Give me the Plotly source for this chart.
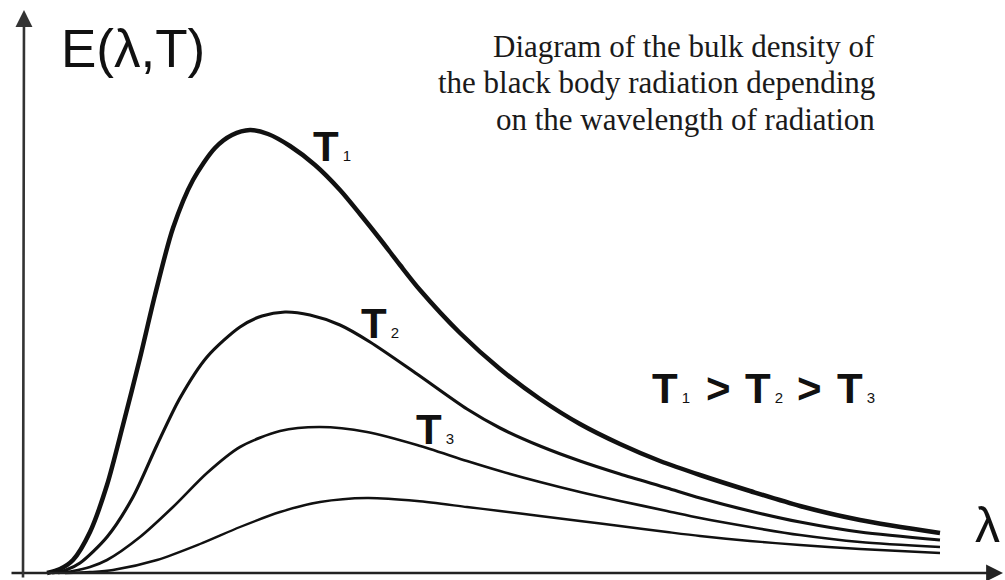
"""
Black body radiation: spectral density E(lambda, T) for several temperatures.
Curves read off the reference sketch (arbitrary units, origin at the axes).
"""

import plotly.graph_objects as go

# --- Data (arbitrary units: lambda to the right, E upward) ---
LAM_T1 = [24, 37, 50, 67, 84, 100, 117, 132, 150, 170, 192, 209, 227, 245, 267, 292, 317,
          337, 357, 377, 397, 437, 477, 517, 557, 597, 637, 677, 727, 777, 837, 917]
E_T1 = [0, 4, 13, 41, 88, 148, 215, 278, 345, 393, 425, 438, 443, 439, 427, 408, 383,
        359, 334, 308, 283, 240, 204, 174, 149, 129, 112, 98, 82, 67, 53, 40]

LAM_T2 = [29, 43, 57, 84, 110, 134, 157, 184, 217, 239, 262, 287, 317, 347, 394, 444,
          477, 517, 557, 597, 644, 677, 727, 777, 837, 917]
E_T2 = [0, 3, 10, 36, 76, 128, 175, 216, 246, 257, 261, 258, 248, 231, 199, 164,
        145, 127, 112, 99, 85, 75, 62, 51, 41, 33]

LAM_T3 = [35, 50, 67, 84, 117, 150, 184, 217, 257, 297, 344, 394, 444, 477, 517, 557,
          597, 644, 677, 727, 777, 837, 917]
E_T3 = [0, 2, 6, 13, 36, 66, 100, 126, 142, 146, 141, 128, 112, 102, 91, 81,
        72, 62, 55, 46, 38, 31, 26]

LAM_T4 = [42, 67, 90, 134, 177, 217, 257, 297, 344, 394, 444, 477, 517, 557, 597, 644,
          677, 727, 777, 837, 917]
E_T4 = [0, 1, 3, 13, 29, 46, 61, 71, 75, 72, 66, 62, 57, 52, 47, 41,
        37, 32, 28, 24, 20]

CURVES = [
    (LAM_T1, E_T1, 4.5),
    (LAM_T2, E_T2, 3.2),
    (LAM_T3, E_T3, 2.7),
    (LAM_T4, E_T4, 2.4),
]

TITLE_LINES = [
    "Diagram of the bulk density of",
    "the black body radiation depending",
    "on the wavelength of radiation",
]

SANS = "Liberation Sans, Arial, sans-serif"
SERIF = "Liberation Serif, Times New Roman, serif"
INK = "#111111"


def t_label(digit):
    return f"<b>T</b><span style='font-size:15px'> {digit}</span>"


fig = go.Figure()

for lam, e, w in CURVES:
    fig.add_trace(go.Scatter(
        x=lam, y=e,
        mode='lines',
        line=dict(color=INK, width=w, shape='spline', smoothing=0.8),
        showlegend=False,
        hoverinfo='skip',
    ))

annotations = []

# Axes with arrows (tail -> tip)
annotations.append(dict(
    x=980, y=0, ax=-13, ay=0, xref='x', yref='y', axref='x', ayref='y',
    showarrow=True, arrowhead=2, arrowsize=1.3, arrowwidth=2.6, arrowcolor='#222222',
    text='', standoff=0,
))
annotations.append(dict(
    x=1, y=563, ax=0, ay=-6, xref='x', yref='y', axref='x', ayref='y',
    showarrow=True, arrowhead=2, arrowsize=1.3, arrowwidth=2.6, arrowcolor='#333333',
    text='', standoff=0,
))

# Axis labels
annotations.append(dict(
    x=36, y=525, xref='x', yref='y', text="E(λ,T)", showarrow=False,
    xanchor='left', yanchor='middle', font=dict(family=SANS, size=53, color=INK),
))
annotations.append(dict(
    x=950, y=48, xref='x', yref='y', text="λ", showarrow=False,
    xanchor='left', yanchor='middle', font=dict(family=SANS, size=50, color=INK),
))

# Curve labels
for x, y, d in [(288, 427, 1), (336, 250, 2), (391, 144, 3)]:
    annotations.append(dict(
        x=x, y=y, xref='x', yref='y', text=t_label(d), showarrow=False,
        xanchor='left', yanchor='middle', font=dict(family=SANS, size=42, color=INK),
    ))

# "T1 > T2 > T3" legend line
for x, txt in [(627, t_label(1)), (681, "<b>&gt;</b>"), (720, t_label(2)),
               (772, "<b>&gt;</b>"), (812, t_label(3))]:
    annotations.append(dict(
        x=x, y=185, xref='x', yref='y', text=txt, showarrow=False,
        xanchor='left', yanchor='middle', font=dict(family=SANS, size=42, color=INK),
    ))

# Title block, right aligned
for i, line in enumerate(TITLE_LINES):
    annotations.append(dict(
        x=854, y=527 - i * 36.5, xref='x', yref='y', text=line, showarrow=False,
        xanchor='right', yanchor='middle', align='right',
        font=dict(family=SERIF, size=31, color='#1a1a1a'),
    ))

fig.update_xaxes(visible=False, range=[-23, 982], fixedrange=True)
fig.update_yaxes(visible=False, range=[-7, 573], fixedrange=True)

fig.update_layout(
    width=1005, height=580,
    margin=dict(l=0, r=0, t=0, b=0),
    paper_bgcolor='white', plot_bgcolor='white',
    annotations=annotations,
)

fig.write_html(
    "out.html",
    config={'displayModeBar': False},
    post_script="document.body.style.margin='0';",
)
